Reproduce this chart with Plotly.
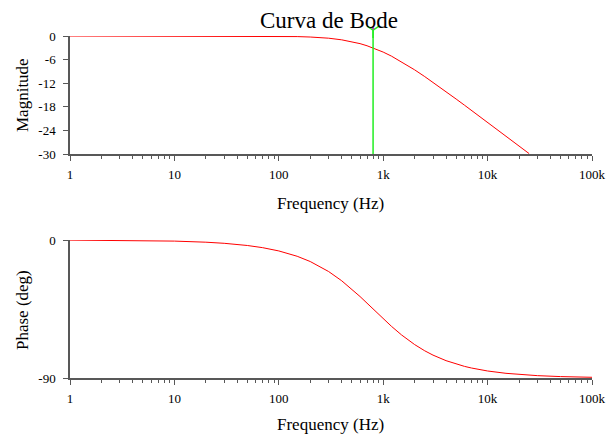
import plotly.graph_objects as go

# ---- data ----
mag_freq = [1, 10, 30, 50, 100, 150, 200, 250, 300, 400, 500, 600, 700, 800, 900,
            1000, 1200, 1500, 2000, 2500, 3000, 4000, 5000, 6000, 7000, 8000,
            10000, 12000, 15000, 20000, 25000]
mag_db = [0.0, 0.0, -0.01, -0.02, -0.07, -0.15, -0.26, -0.41, -0.56, -0.97, -1.46,
          -1.94, -2.48, -3.01, -3.55, -4.09, -5.12, -6.55, -8.60, -10.32, -11.78,
          -14.15, -16.03, -17.58, -18.90, -20.04, -21.97, -23.54, -25.47, -27.97, -29.90]

ph_freq = [1, 2, 5, 10, 20, 30, 50, 70, 100, 150, 200, 300, 400, 500, 600, 700, 800,
           1000, 1200, 1500, 2000, 2500, 3000, 4000, 5000, 6000, 7000, 8000, 10000,
           15000, 20000, 30000, 50000, 70000, 100000]
ph_deg = [-0.07, -0.14, -0.36, -0.72, -1.43, -2.15, -3.58, -5.0, -7.13, -10.62, -14.04,
          -20.56, -26.57, -32.01, -36.87, -41.19, -45.0, -51.34, -56.31, -61.93, -68.20,
          -72.26, -75.07, -78.69, -80.91, -82.41, -83.48, -84.29, -85.43, -86.95, -87.71,
          -88.47, -89.08, -89.35, -89.54]

cursor_freq = 800
cursor_top_db = 1.5

x_tickvals = [1, 10, 100, 1000, 10000, 100000]
x_ticktext = ["1", "10", "100", "1k", "10k", "100k"]
mag_tickvals = [0, -6, -12, -18, -24, -30]
mag_ticktext = ["0", "-6", "-12", "-18", "-24", "-30"]
ph_tickvals = [0, -90]
ph_ticktext = ["0", "-90"]

FONT = "Liberation Serif, Times New Roman, serif"
AX = "#585858"
RED = "#ff0000"
GREEN = "#22ee22"

W, H = 613, 435
X0, X1 = 70, 592            # plot area left/right (px)
T0, T1 = 36, 154            # magnitude panel top/bottom (px)
B0, B1 = 240, 378           # phase panel top/bottom (px)
CUR_TOP = 20                # top of cursor overlay panel (px)

minor_vals = [m * 10 ** d for d in range(0, 5) for m in range(2, 10)]

# cursor overlay axis: same dB scale as the magnitude panel, but taller
db_per_px = (mag_tickvals[0] - mag_tickvals[-1]) / (T1 - T0)
cur_range = [mag_tickvals[-1], mag_tickvals[-1] + (T1 - CUR_TOP) * db_per_px]

fig = go.Figure()
fig.add_trace(go.Scatter(x=mag_freq, y=mag_db, mode="lines",
                         line=dict(color=RED, width=1), xaxis="x", yaxis="y"))
fig.add_trace(go.Scatter(x=ph_freq, y=ph_deg, mode="lines",
                         line=dict(color=RED, width=1), xaxis="x2", yaxis="y2"))
fig.add_trace(go.Scatter(x=[cursor_freq, cursor_freq], y=[mag_tickvals[-1], cursor_top_db],
                         mode="lines", line=dict(color=GREEN, width=1.5),
                         xaxis="x3", yaxis="y3"))
fig.add_trace(go.Scatter(x=[cursor_freq], y=[cursor_top_db], mode="markers",
                         marker=dict(symbol="y-down", size=10, color=GREEN,
                                     line=dict(color=GREEN, width=1.5)),
                         cliponaxis=False, xaxis="x3", yaxis="y3"))
fig.add_trace(go.Scatter(x=[cursor_freq], y=[cursor_top_db + 0.5], mode="markers",
                         marker=dict(symbol="circle", size=2.5, color="#c040c0"),
                         cliponaxis=False, xaxis="x3", yaxis="y3"))

xcommon = dict(type="log", range=[0, 5], tickvals=x_tickvals, ticktext=x_ticktext,
               showline=True, linecolor=AX, linewidth=1.5, ticks="outside", ticklen=5,
               tickcolor=AX, tickwidth=1, showgrid=False, zeroline=False,
               ticklabelstandoff=3,
               tickfont=dict(family=FONT, size=13, color="black"),
               minor=dict(tickvals=minor_vals, ticks="outside", ticklen=3,
                          tickcolor=AX, tickwidth=1, showgrid=False),
               domain=[X0 / W, X1 / W], fixedrange=True)
ycommon = dict(showline=True, linecolor=AX, linewidth=1.5, ticks="outside", ticklen=5,
               tickcolor=AX, tickwidth=1, showgrid=False, zeroline=False,
               ticklabelstandoff=5,
               tickfont=dict(family=FONT, size=13, color="black"), fixedrange=True)


def ann(text, px, py, size, angle=0):
    return dict(text=text, x=px / W, y=1 - py / H, xref="paper", yref="paper",
                showarrow=False, font=dict(size=size, family=FONT, color="black"),
                textangle=angle, xanchor="center", yanchor="middle")


fig.update_layout(
    width=W, height=H,
    margin=dict(l=0, r=0, t=0, b=0, pad=0, autoexpand=False),
    paper_bgcolor="white", plot_bgcolor="rgba(0,0,0,0)",
    showlegend=False,
    font=dict(family=FONT, color="black"),
    xaxis=dict(xcommon, anchor="y"),
    xaxis2=dict(xcommon, anchor="y2"),
    xaxis3=dict(type="log", range=[0, 5], domain=[X0 / W, X1 / W], anchor="y3",
                visible=False, fixedrange=True),
    yaxis=dict(ycommon, range=[-30, 0], tickvals=mag_tickvals, ticktext=mag_ticktext,
               domain=[1 - T1 / H, 1 - T0 / H], anchor="x"),
    yaxis2=dict(ycommon, range=[-90, 0], tickvals=ph_tickvals, ticktext=ph_ticktext,
                domain=[1 - B1 / H, 1 - B0 / H], anchor="x2"),
    yaxis3=dict(range=cur_range, domain=[1 - T1 / H, 1 - CUR_TOP / H], anchor="x3",
                visible=False, fixedrange=True),
    annotations=[
        ann("Curva de Bode", 329, 21, 23),
        ann("Frequency (Hz)", 330, 203, 17),
        ann("Frequency (Hz)", 330, 424, 17),
        ann("Magnitude", 22, 95, 17, -90),
        ann("Phase (deg)", 22, 310, 17, -90),
    ],
)

fig.write_html(
    "out.html",
    config={"displayModeBar": False, "responsive": False},
    post_script="document.body.style.margin='0px';document.body.style.padding='0px';"
                "document.body.style.overflow='hidden';",
)
